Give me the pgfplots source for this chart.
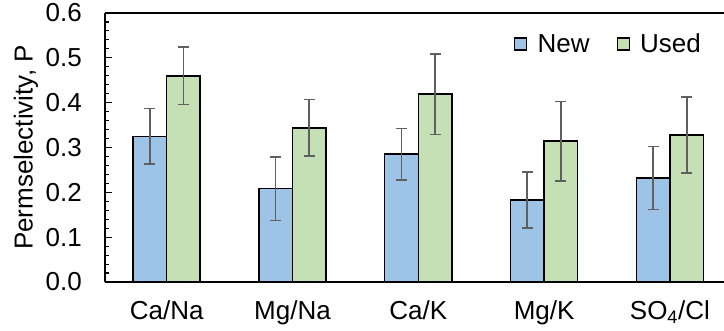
\documentclass[border=0pt]{standalone}
\usepackage{pgfplots}
\pgfplotsset{compat=1.18}
\usepackage{pgfplotstable}
\usepackage{fontspec}
\setmainfont{Liberation Sans}
\definecolor{newblue}{RGB}{157,195,230}
\definecolor{usedgreen}{RGB}{197,224,180}
\definecolor{errgray}{RGB}{95,95,95}
\pgfplotstableread{
x New errN Used errU
0 0.325 0.062 0.460 0.064
1 0.208 0.071 0.344 0.063
2 0.285 0.057 0.419 0.090
3 0.183 0.063 0.314 0.089
4 0.232 0.070 0.328 0.085
}\datatable
\begin{document}
\begin{tikzpicture}
\begin{axis}[name=ax, scale only axis, width=619bp, height=269bp,
  font=\fontsize{26bp}{30bp}\selectfont,
  xmin=-0.49, xmax=4.43, ymin=0, ymax=0.6,
  axis x line*=bottom, axis y line*=left,
  axis line style={line width=1.4bp, black},
  xtick={0,1,2,3,4},
  xticklabels={Ca/Na, Mg/Na, Ca/K, Mg/K, SO\textsubscript{4}/Cl},
  x tick style={draw=none},
  ytick={0,0.1,0.2,0.3,0.4,0.5,0.6},
  minor y tick num=4,
  tick align=inside, major tick length=7bp, minor tick length=4bp,
  y tick style={line width=1.1bp, black},
  /pgf/number format/assume math mode=true,
  /pgf/number format/fixed,
  /pgf/number format/fixed zerofill,
  /pgf/number format/precision=1,
  yticklabel style={inner sep=0pt, xshift=-23bp},
  xticklabel style={inner sep=0pt, yshift=-11bp},
  ylabel={Permselectivity, P},
  ylabel style={at={(axis description cs:-0.108,0.5)}, anchor=south, inner sep=0pt},
  ybar, bar width=0.267,
  legend columns=2,
  legend style={draw=none, fill=none, at={(rel axis cs:1,0.885)}, anchor=east, xshift=-18bp,
    /tikz/every even column/.append style={column sep=25bp}},
  legend image code/.code={\draw[#1, draw=black, line width=1.2bp] (0bp,-6bp) rectangle (12bp,6bp);
    \path[draw=none, fill=none] (0bp,0bp) -- (21bp,0bp);},
]
\addplot[fill=newblue, draw=black, line width=1.5bp, bar shift=-0.1335,
  error bars/.cd, y dir=both, y explicit,
  error bar style={color=errgray, line width=1.6bp},
  error mark options={rotate=90, mark size=5.5bp, line width=1.6bp, color=errgray}]
  table[x=x, y=New, y error=errN] {\datatable};
\addlegendentry{New}
\addplot[fill=usedgreen, draw=black, line width=1.5bp, bar shift=0.1335,
  error bars/.cd, y dir=both, y explicit,
  error bar style={color=errgray, line width=1.6bp},
  error mark options={rotate=90, mark size=5.5bp, line width=1.6bp, color=errgray}]
  table[x=x, y=Used, y error=errU] {\datatable};
\addlegendentry{Used}
\end{axis}
\draw[line width=1.4bp, black] (ax.north west) -- (ax.north east);
\pgfresetboundingbox
\useasboundingbox ([xshift=-105bp, yshift=-49bp]ax.south west) rectangle ([yshift=13bp]ax.north east);
\end{tikzpicture}
\end{document}
